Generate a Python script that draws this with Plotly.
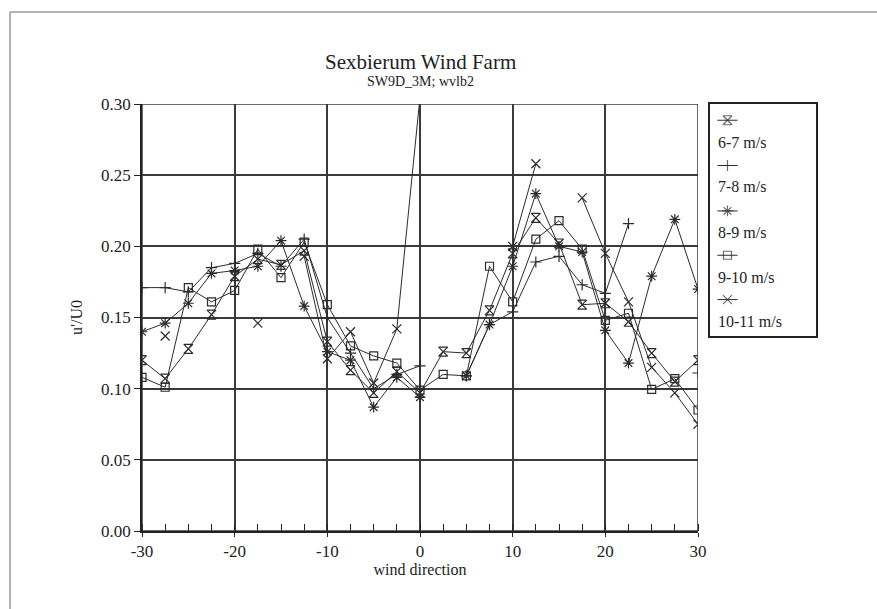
import plotly.graph_objects as go

# ---------------- data ----------------
wind_dir = [-30, -27.5, -25, -22.5, -20, -17.5, -15, -12.5, -10, -7.5, -5, -2.5,
            0, 2.5, 5, 7.5, 10, 12.5, 15, 17.5, 20, 22.5, 25, 27.5, 30]

s_6_7 = [0.120, 0.107, 0.128, 0.152, 0.179, 0.191, 0.187, 0.197, 0.133, 0.113, 0.097, 0.112,
         0.097, 0.126, 0.125, 0.155, 0.195, 0.220, 0.202, 0.159, 0.160, 0.147, 0.125, 0.105, 0.120]
s_7_8 = [0.171, 0.171, 0.168, 0.185, 0.188, 0.195, 0.186, 0.205, 0.150, 0.125, 0.100, 0.110,
         0.116, None, 0.109, 0.145, 0.154, 0.189, 0.193, 0.173, 0.167, 0.216, None, None, 0.111]
s_8_9 = [0.140, 0.146, 0.160, 0.181, 0.183, 0.186, 0.204, 0.158, 0.126, 0.120, 0.087, 0.108,
         0.094, None, 0.109, 0.145, 0.186, 0.237, 0.200, 0.196, 0.141, 0.118, 0.179, 0.219, 0.170]
s_9_10 = [0.108, 0.101, 0.171, 0.161, 0.169, 0.198, 0.178, 0.203, 0.159, 0.130, 0.123, 0.118,
          0.099, 0.110, 0.109, 0.186, 0.161, 0.205, 0.218, 0.198, 0.148, 0.153, 0.0995, 0.107, 0.085]
s_10_11 = [None, 0.137, None, None, None, 0.146, None, 0.193, 0.121, 0.140, 0.104, 0.142,
           0.305, None, None, None, 0.200, 0.258, None, 0.234, 0.195, 0.161, 0.115, 0.097, 0.075]

series_names = ["6-7 m/s", "7-8 m/s", "8-9 m/s", "9-10 m/s", "10-11 m/s"]
series_values = [s_6_7, s_7_8, s_8_9, s_9_10, s_10_11]
symbols = ["hourglass-open", "cross-thin-open", "asterisk-open", "square-open", "x-thin-open"]
marker_sizes = [9, 8, 9, 8, 9]

y_ticks = [0.00, 0.05, 0.10, 0.15, 0.20, 0.25, 0.30]
x_ticks = [-30, -20, -10, 0, 10, 20, 30]

# ---------------- layout geometry ----------------
W, H = 877, 609
ML, MR, MT, MB = 142, 50, 95, 78
PW = W - ML - MR
PH = H - MT - MB


def px_x(p):
    return (p - ML) / PW


def px_y(p):
    return (H - MB - p) / PH


LINE_COL = "#2b2b2b"
FONT = "Liberation Serif"

fig = go.Figure()

for name, vals, sym, ms in zip(series_names, series_values, symbols, marker_sizes):
    fig.add_trace(go.Scatter(
        x=wind_dir, y=vals, name=name, mode="lines+markers",
        line=dict(color=LINE_COL, width=1),
        marker=dict(symbol=sym, size=ms, color=LINE_COL, line=dict(width=1.2, color=LINE_COL)),
        connectgaps=False, showlegend=False, xaxis="x", yaxis="y",
    ))

# ---------------- manual legend (symbol above label) ----------------
leg_sample_y = [0.930, 0.735, 0.539, 0.348, 0.157]
leg_label_y = [0.835, 0.643, 0.448, 0.252, 0.061]
for name, sym, ms, sy, ly in zip(series_names, symbols, marker_sizes, leg_sample_y, leg_label_y):
    fig.add_trace(go.Scatter(
        x=[0.07, 0.165, 0.26], y=[sy, sy, sy], mode="lines+markers",
        line=dict(color=LINE_COL, width=1),
        marker=dict(symbol=sym, size=[0, ms, 0], color=LINE_COL, line=dict(width=1.2, color=LINE_COL)),
        showlegend=False, hoverinfo="skip", xaxis="x2", yaxis="y2",
    ))
    fig.add_annotation(x=0.06, y=ly, xref="x2", yref="y2", text=name, showarrow=False,
                       xanchor="left", yanchor="middle",
                       font=dict(family=FONT, size=16, color="#222"))

main_top = px_y(104)

fig.update_layout(
    width=W, height=H,
    margin=dict(l=ML, r=MR, t=MT, b=MB),
    paper_bgcolor="white", plot_bgcolor="white",
    showlegend=False,
    font=dict(family=FONT, size=16, color="#222"),
    xaxis=dict(
        domain=[0, px_x(698)], range=[-30, 30], tickvals=x_ticks,
        ticktext=[str(v) for v in x_ticks],
        showgrid=True, gridcolor="#3a3a3a", gridwidth=1.5,
        zeroline=False, showline=True, linecolor="#222", linewidth=1.5,
        ticks="outside", ticklen=4, tickcolor="#222",
        minor=dict(dtick=2.5, ticks="inside", ticklen=7, tickcolor="#222", showgrid=False),
        tickfont=dict(family=FONT, size=17, color="#222"),
        title=dict(text="wind direction", font=dict(family=FONT, size=16, color="#222"), standoff=4),
        anchor="y",
    ),
    yaxis=dict(
        domain=[0, main_top], range=[0, 0.30], tickvals=y_ticks,
        tickformat=".2f",
        showgrid=True, gridcolor="#3a3a3a", gridwidth=1.5,
        zeroline=False, showline=True, linecolor="#222", linewidth=1.5,
        ticks="outside", ticklen=6, tickcolor="#222",
        tickfont=dict(family=FONT, size=17, color="#222"),
        title=dict(text="u'/U0", font=dict(family=FONT, size=16, color="#222"), standoff=14),
        anchor="x",
    ),
    xaxis2=dict(
        domain=[px_x(710), px_x(816)], range=[0, 1], showgrid=False, zeroline=False,
        showticklabels=False, ticks="", showline=True, mirror=True,
        linecolor="#222", linewidth=1.5, anchor="y2", fixedrange=True,
    ),
    yaxis2=dict(
        domain=[px_y(336), px_y(104)], range=[0, 1], showgrid=False, zeroline=False,
        showticklabels=False, ticks="", showline=True, mirror=True,
        linecolor="#222", linewidth=1.5, anchor="x2", fixedrange=True,
    ),
)

# mirror top/right border of plot
fig.add_shape(type="rect", xref="x", yref="y", x0=-30, x1=30, y0=0, y1=0.30,
              line=dict(color="#3a3a3a", width=1.5), layer="above")

# Titles
cx = px_x(420)
fig.add_annotation(x=cx, y=px_y(62), xref="paper", yref="paper", text="Sexbierum Wind Farm",
                   showarrow=False, xanchor="center", yanchor="middle",
                   font=dict(family=FONT, size=21, color="#222"))
fig.add_annotation(x=cx, y=px_y(81), xref="paper", yref="paper", text="SW9D_3M; wvlb2",
                   showarrow=False, xanchor="center", yanchor="middle",
                   font=dict(family=FONT, size=14, color="#222"))

# page frame (scanned page border)
fig.add_shape(type="line", xref="paper", yref="paper",
              x0=px_x(10), x1=px_x(10), y0=px_y(12), y1=px_y(609),
              line=dict(color="#9a9a9a", width=1.5))
fig.add_shape(type="line", xref="paper", yref="paper",
              x0=px_x(10), x1=px_x(877), y0=px_y(12), y1=px_y(12),
              line=dict(color="#9a9a9a", width=1.5))

fig.write_html("out.html")
